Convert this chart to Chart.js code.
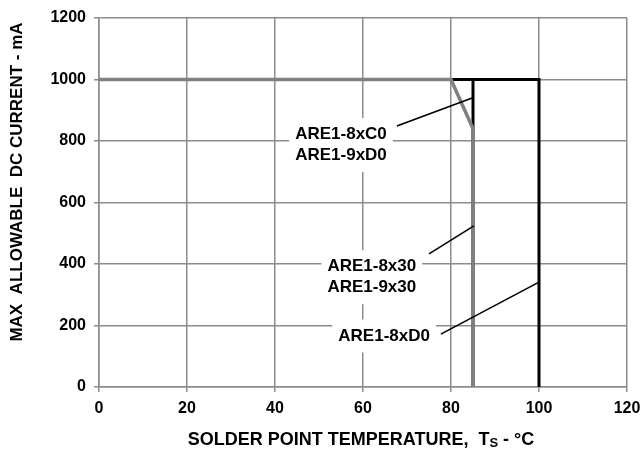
<!DOCTYPE html>
<html>
<head>
<meta charset="utf-8">
<script src="https://cdn.jsdelivr.net/npm/chart.js@4"></script>
<style>
html,body{margin:0;padding:0;background:#fff;}
#wrap{width:642px;height:450px;}
</style>
</head>
<body>
<div id="wrap"><canvas id="c" width="642" height="450"></canvas></div>
<script>
// ---- data ----
const tempD0 = [0, 100, 100];
const currD0 = [1000, 1000, 0];
const tempC0 = [0, 85, 85];
const currC0 = [1000, 1000, 0];
const temp30 = [0, 80, 85, 85];
const curr30 = [1000, 1000, 840, 0];

const xMin = 0, xMax = 120, xStep = 20;
const yMin = 0, yMax = 1200, yStep = 200;

const xTitle = ["SOLDER POINT TEMPERATURE,  T", "S", " - \u00B0C"];
const yTitle = "MAX  ALLOWABLE  DC CURRENT - mA";

// annotation labels: lines of text, text-center (data coords), leader start/end (data coords)
const labelC0 = {lines: ["ARE1-8xC0", "ARE1-9xD0"], x: 55, y: 787, from: [67.7, 849], to: [84.8, 940]};
const label30 = {lines: ["ARE1-8x30", "ARE1-9x30"], x: 62, y: 357, from: [75.0, 433], to: [85.2, 524]};
const labelD0 = {lines: ["ARE1-8xD0"], x: 64.8, y: 166, from: [77.7, 172], to: [100, 341]};
const labels = [labelC0, label30, labelD0];

function pts(xs, ys){ return xs.map((x,i)=>({x:x, y:ys[i]})); }

const FONT = '"Liberation Sans", Arial, sans-serif';
const gridColor = '#8c8c8c';

const annotPlugin = {
  id: 'annot',
  beforeDatasetsDraw(chart){
    const ctx = chart.ctx, xs = chart.scales.x, ys = chart.scales.y;
    ctx.save();
    ctx.font = 'bold 17px ' + FONT;
    labels.forEach(l => {
      const cx = xs.getPixelForValue(l.x), cy = ys.getPixelForValue(l.y);
      let w = 0; l.lines.forEach(t => w = Math.max(w, ctx.measureText(t).width));
      const lh = 21, h = l.lines.length * lh;
      ctx.fillStyle = '#fff';
      ctx.fillRect(cx - w/2 - 6, cy - h/2 - 6, w + 12, h + 12);
    });
    ctx.restore();
  },
  afterDatasetsDraw(chart){
    const ctx = chart.ctx, xs = chart.scales.x, ys = chart.scales.y;
    ctx.save();
    ctx.font = 'bold 17px ' + FONT;
    ctx.fillStyle = '#000';
    ctx.textAlign = 'center';
    ctx.textBaseline = 'middle';
    labels.forEach(l => {
      const cx = xs.getPixelForValue(l.x), cy = ys.getPixelForValue(l.y);
      const lh = 21, n = l.lines.length;
      l.lines.forEach((t, i) => ctx.fillText(t, cx, cy + (i - (n-1)/2) * lh));
      ctx.beginPath();
      ctx.strokeStyle = '#000';
      ctx.lineWidth = 1.6;
      ctx.moveTo(xs.getPixelForValue(l.from[0]), ys.getPixelForValue(l.from[1]));
      ctx.lineTo(xs.getPixelForValue(l.to[0]), ys.getPixelForValue(l.to[1]));
      ctx.stroke();
    });
    // axis titles
    const ca = chart.chartArea;
    ctx.textAlign = 'left';
    ctx.textBaseline = 'alphabetic';
    const f1 = 'bold 18px ' + FONT, f2 = 'bold 13px ' + FONT;
    ctx.font = f1; const w1 = ctx.measureText(xTitle[0]).width, w3 = ctx.measureText(xTitle[2]).width;
    ctx.font = f2; const w2 = ctx.measureText(xTitle[1]).width;
    let x0 = (ca.left + ca.right)/2 - (w1 + w2 + w3)/2 - 2;
    const by = 445;
    ctx.font = f1; ctx.fillText(xTitle[0], x0, by); x0 += w1;
    ctx.font = f2; ctx.fillText(xTitle[1], x0, by + 2); x0 += w2;
    ctx.font = f1; ctx.fillText(xTitle[2], x0, by);
    // y title
    ctx.translate(17, 182);
    ctx.rotate(-Math.PI/2);
    ctx.textAlign = 'center';
    ctx.textBaseline = 'middle';
    ctx.font = 'bold 17px ' + FONT;
    ctx.fillText(yTitle, 0, 0);
    ctx.restore();
  }
};

new Chart(document.getElementById('c'), {
  type: 'line',
  data: {
    datasets: [
      {label: 'ARE1-8x30', data: pts(temp30, curr30), borderColor: '#808080', borderWidth: 3.5, order: 0},
      {label: 'ARE1-8xC0', data: pts(tempC0, currC0), borderColor: '#000', borderWidth: 3, order: 1},
      {label: 'ARE1-8xD0', data: pts(tempD0, currD0), borderColor: '#000', borderWidth: 3, order: 2}
    ]
  },
  options: {
    responsive: false,
    animation: false,
    devicePixelRatio: 1,
    layout: {padding: {left: 0, top: 18, right: 15, bottom: 0}},
    elements: {
      line: {tension: 0, fill: false, borderJoinStyle: 'miter', borderCapStyle: 'butt'},
      point: {radius: 0, hoverRadius: 0}
    },
    plugins: {legend: {display: false}, tooltip: {enabled: false}},
    scales: {
      x: {
        type: 'linear', min: xMin, max: xMax,
        ticks: {stepSize: xStep, color: '#000', font: {family: FONT, size: 16, weight: 'bold'}, padding: 7, maxRotation: 0,
                callback: v => String(v)},
        grid: {color: gridColor, lineWidth: 1.5, tickLength: 5, tickColor: gridColor},
        border: {color: gridColor, width: 1.5},
        afterFit(s){ s.height = 63; s.paddingLeft = 0; s.paddingRight = 0; }
      },
      y: {
        type: 'linear', min: yMin, max: yMax,
        ticks: {stepSize: yStep, color: '#000', font: {family: FONT, size: 16, weight: 'bold'}, padding: 8,
                callback: v => String(v)},
        grid: {color: gridColor, lineWidth: 1.5, tickLength: 5, tickColor: gridColor},
        border: {color: gridColor, width: 1.5},
        afterFit(s){ s.width = 99; s.paddingTop = 0; s.paddingBottom = 0; }
      }
    }
  },
  plugins: [annotPlugin]
});
</script>
</body>
</html>
